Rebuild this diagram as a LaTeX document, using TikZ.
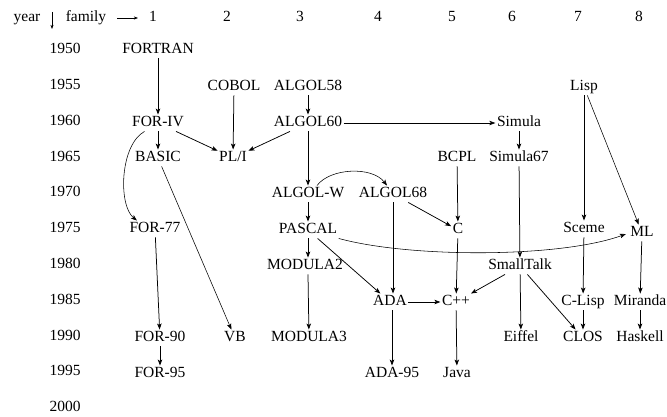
\documentclass[tikz,border=0pt]{standalone}
\usepackage{fontspec}
\setmainfont{Liberation Serif}
\newfontfamily\langfont{Liberation Serif}
\usetikzlibrary{arrows.meta,calc}
\begin{document}
\begin{tikzpicture}[x=1pt,y=-1pt,
  lang/.style={inner sep=1.5pt, text height=10.5pt, text depth=3pt,
    font=\langfont\fontsize{15.5}{18}\selectfont},
  link/.style={line width=0.75pt, -{Stealth[length=6pt,width=4.5pt,inset=1.5pt]}},
  thin link/.style={link, line width=0.55pt},
]
\useasboundingbox (0,0) rectangle (667,417);

% header row
\node[lang] (hyear) at (27,18) {year};
\node[lang] (hfam)  at (86,18) {family};
\coordinate (ydn1) at (52,12);
\coordinate (ydn2) at (52,29);
\coordinate (frt1) at (117,18);
\coordinate (frt2) at (138,18);
\draw[line width=0.6pt, -{Stealth[length=4pt,width=3pt,inset=1pt]}] (ydn1) -- (ydn2);
\draw[line width=0.6pt, -{Stealth[length=4pt,width=3pt,inset=1pt]}] (frt1) -- (frt2);
\foreach \n/\x in {1/153,2/227,3/300,4/378,5/452,6/512,7/578,8/639}
  \node[lang] (col\n) at (\x,18) {\n};

% year axis
\foreach \yr [count=\i from 0] in {1950,1955,1960,1965,1970,1975,1980,1985,1990,1995,2000}
  \node[lang] (yr\yr) at (65,{50+35.8*\i}) {\yr};

% languages
\node[lang] (fortran)  at (158,50)  {FORTRAN};
\node[lang] (cobol)    at (234,87)  {COBOL};
\node[lang] (algol58)  at (308,87)  {ALGOL58};
\node[lang] (lisp)     at (584,87)  {Lisp};
\node[lang] (foriv)    at (158,123) {FOR-IV};
\node[lang] (algol60)  at (308,123) {ALGOL60};
\node[lang] (simula)   at (519,123) {Simula};
\node[lang] (basic)    at (158,158) {BASIC};
\node[lang] (pli)      at (233,158) {PL/I};
\node[lang] (bcpl)     at (457,158) {BCPL};
\node[lang] (simula67) at (519,158) {Simula67};
\node[lang] (algolw)   at (308,194) {ALGOL-W};
\node[lang] (algol68)  at (393,194) {ALGOL68};
\node[lang] (for77)    at (155,229) {FOR-77};
\node[lang] (pascal)   at (308,230) {PASCAL};
\node[lang] (c)        at (458,230) {C};
\node[lang] (sceme)    at (584,229) {Sceme};
\node[lang] (ml)       at (642,233) {ML};
\node[lang] (modula2)  at (305,266) {MODULA2};
\node[lang] (smalltalk) at (520,266) {SmallTalk};
\node[lang] (ada)      at (390,302) {ADA};
\node[lang] (cpp)      at (456,302) {C++};
\node[lang] (clisp)    at (583,302) {C-Lisp};
\node[lang] (miranda)  at (640,302) {Miranda};
\node[lang] (for90)    at (160,338) {FOR-90};
\node[lang] (vb)       at (235,338) {VB};
\node[lang] (modula3)  at (309,338) {MODULA3};
\node[lang] (eiffel)   at (521,338) {Eiffel};
\node[lang] (clos)     at (583,338) {CLOS};
\node[lang] (haskell)  at (640,338) {Haskell};
\node[lang] (for95)    at (160,374) {FOR-95};
\node[lang] (ada95)    at (392,374) {ADA-95};
\node[lang] (java)     at (457,374) {Java};

% family 1
\draw[link] (fortran) -- (foriv);
\draw[link] (foriv) -- (basic);
\draw[link] (foriv) -- (pli);
\draw[thin link] ([xshift=14pt]foriv.south west) .. controls (120,145) and (118,205) .. ([xshift=9pt]for77.north west);
\draw[thin link] (basic) -- (vb);
\draw[link] (for77) -- (for90);
\draw[link] (for90) -- (for95);

% family 2
\draw[link] (cobol) -- (pli);

% family 3
\draw[link] (algol58) -- (algol60);
\draw[link] (algol60) -- (pli);
\draw[link] (algol60) -- (simula);
\draw[link] (algol60) -- (algolw);
\draw[thin link] ([xshift=9pt]algolw.north) .. controls (330,168) and (372,166) .. ([xshift=-6pt]algol68.north);
\draw[link] (algolw) -- (pascal);
\draw[link] (pascal) -- (pascal |- modula2.north);
\draw[link] (pascal |- modula2.south) -- (modula3);
\draw[link] (pascal) -- (ada);
\draw[thin link, shorten >=3pt] (pascal.south east) .. controls (410,258) and (560,258) .. (ml.west);

% family 4
\draw[link] (algol68) -- (algol68 |- ada.north);
\draw[link] (algol68) -- (c);
\draw[link] (ada) -- (cpp);
\draw[link] (ada95 |- ada.south) -- (ada95);

% family 5
\draw[link] (bcpl) -- (c);
\draw[link] (c) -- (cpp);
\draw[link] (cpp) -- (java);

% family 6
\draw[link] (simula) -- (simula67);
\draw[link] (simula67) -- (smalltalk);
\draw[link] (smalltalk) -- (cpp);
\draw[link] (smalltalk) -- (eiffel);
\draw[link] (smalltalk) -- (clos);

% families 7 and 8
\draw[link] (lisp) -- (sceme);
\draw[thin link] (lisp) -- (ml);
\draw[link] (sceme) -- (clisp);
\draw[link] (clisp) -- (clos);
\draw[link] (ml) -- (miranda);
\draw[link] (miranda) -- (haskell);
\end{tikzpicture}
\end{document}
